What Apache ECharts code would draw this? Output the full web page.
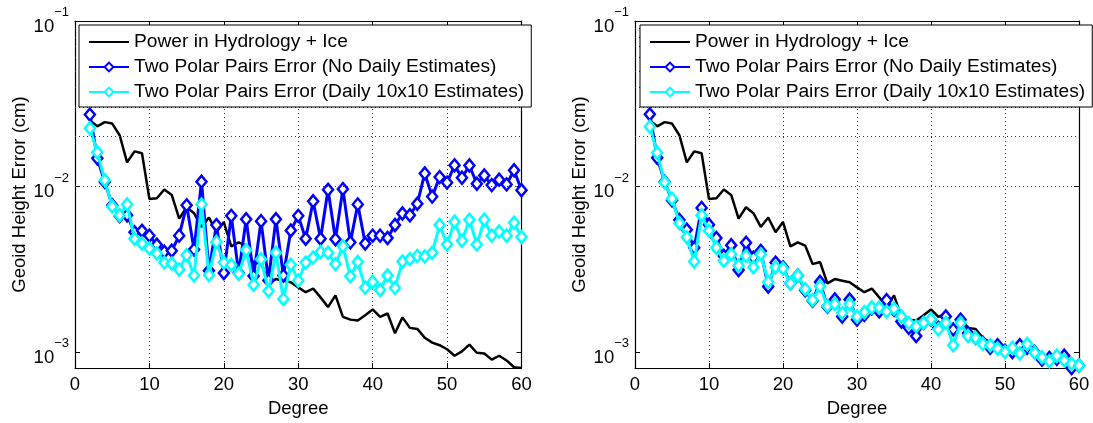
<!DOCTYPE html>
<html>
<head>
<meta charset="utf-8">
<script src="https://cdn.jsdelivr.net/npm/echarts@6/dist/echarts.min.js"></script>
<style>
html,body{margin:0;padding:0;background:#fff;}
#chart{width:1093px;height:423px;}
</style>
</head>
<body>
<div id="chart"></div>
<script>
// ---- data ----
const degrees = [2,3,4,5,6,7,8,9,10,11,12,13,14,15,16,17,18,19,20,21,22,23,24,25,26,27,28,29,30,31,32,33,34,35,36,37,38,39,40,41,42,43,44,45,46,47,48,49,50,51,52,53,54,55,56,57,58,59,60];
const seriesNames = ['Power in Hydrology + Ice','Two Polar Pairs Error (No Daily Estimates)','Two Polar Pairs Error (Daily 10x10 Estimates)'];
const powerHydroIce = [0.0251,0.0231,0.0245,0.0240,0.0204,0.0140,0.0163,0.0159,0.0084,0.0085,0.0096,0.0089,0.0064,0.0075,0.0069,0.0057,0.0065,0.0053,0.0061,0.00435,0.0046,0.0044,0.0034,0.0035,0.0026,0.00276,0.0027,0.00264,0.00246,0.0023,0.00242,0.00214,0.00187,0.0022,0.00163,0.00157,0.00155,0.00167,0.00181,0.00163,0.00171,0.0013,0.00162,0.0014,0.00138,0.00122,0.00114,0.0011,0.00104,0.00095,0.00101,0.00111,0.00099,0.00098,0.0009,0.00095,0.00089,0.00081,0.0008];
const noDailyLeft = [0.0272,0.0148,0.01066,0.0077,0.00664,0.0067,0.0053,0.0054,0.00505,0.00445,0.00404,0.00409,0.00505,0.0077,0.00416,0.0107,0.0031,0.00585,0.003,0.00665,0.003,0.00635,0.00288,0.00618,0.00271,0.00635,0.0029,0.00542,0.00665,0.00484,0.00815,0.00484,0.00955,0.0048,0.00965,0.0046,0.0078,0.00453,0.00505,0.00505,0.00489,0.00586,0.00687,0.00671,0.00787,0.0120,0.00869,0.0114,0.01056,0.01343,0.0113,0.0134,0.0104,0.01166,0.0102,0.0110,0.0103,0.01254,0.0095];
const daily10Left = [0.0225,0.0161,0.0109,0.00758,0.0067,0.0078,0.00484,0.00453,0.00423,0.00394,0.00347,0.00343,0.00315,0.00385,0.0029,0.0078,0.00292,0.00463,0.00347,0.00336,0.00297,0.00413,0.00255,0.00364,0.00234,0.00398,0.00209,0.00337,0.0027,0.00347,0.00372,0.00402,0.00398,0.0034,0.00436,0.00287,0.0035,0.00245,0.00265,0.00237,0.0029,0.00244,0.00352,0.00364,0.00381,0.00378,0.00398,0.00586,0.00447,0.00613,0.0047,0.0063,0.00447,0.0063,0.00505,0.00535,0.00505,0.00604,0.00495];
const noDailyRight = [0.0273,0.0149,0.0107,0.00826,0.00628,0.00548,0.00427,0.00743,0.00588,0.00489,0.00381,0.00442,0.00313,0.00457,0.00372,0.00408,0.00249,0.00347,0.00325,0.0026,0.0029,0.00236,0.00204,0.00265,0.00188,0.00208,0.00164,0.00208,0.00157,0.00168,0.00184,0.00176,0.00206,0.0018,0.00153,0.0014,0.00125,0.0015,0.00157,0.0014,0.00164,0.00137,0.00157,0.0013,0.00122,0.00114,0.00106,0.0011,0.00102,0.001,0.0011,0.00106,0.001,0.0009,0.00092,0.00091,0.00095,0.0008,0.00083];
const daily10Right = [0.0230,0.0160,0.0106,0.00845,0.0060,0.00494,0.00352,0.0067,0.0054,0.00427,0.00356,0.0039,0.00333,0.00381,0.00325,0.0039,0.00265,0.00325,0.0032,0.0026,0.0029,0.0024,0.00206,0.0025,0.0019,0.00195,0.00172,0.00195,0.00164,0.00174,0.00186,0.00186,0.00176,0.00183,0.00164,0.0015,0.00143,0.0015,0.00158,0.00137,0.0015,0.0011,0.0015,0.00125,0.00122,0.00112,0.0011,0.00105,0.001,0.00106,0.00098,0.00112,0.00099,0.00093,0.00088,0.00095,0.00089,0.00085,0.00083];
const xTicks = [0,10,20,30,40,50,60];
const yGridValues = [0.0009,0.001,0.002,0.003,0.004,0.005,0.006,0.007,0.008,0.009,0.01,0.02,0.03,0.04,0.05,0.06,0.07,0.08,0.09];
const yMin = 0.0008, yMax = 0.1;
const xLabel = 'Degree';
const yLabel = 'Geoid Height Error (cm)';

// ---- styling ----
const FONT = 'Liberation Sans, Arial, Helvetica, sans-serif';
const FS = 18.5;
const colors = ['#000000','#0000ff','#00ffff'];
const gridDef = [
  {left: 75, top: 21, width: 446.5, height: 354},
  {left: 635, top: 21, width: 444, height: 354}
];
const legendLeft = [79, 640];

function pairs(ys){ return degrees.map((d,i)=>[d, ys[i]]); }
function expLabel(v){
  const l = Math.log10(v), e = Math.round(l);
  if (Math.abs(l - e) > 1e-6) return '';
  return '{b|10}{s|' + (e < 0 ? '\u2212' : '') + Math.abs(e) + '}';
}
const dotted = {type: [1,3], color: '#333', width: 1};

const xAxes = [], yAxes = [], series = [], legends = [];
gridDef.forEach((g, gi) => {
  xAxes.push({
    type: 'value', gridIndex: gi, min: xTicks[0], max: xTicks[xTicks.length-1], interval: 10,
    name: xLabel, nameLocation: 'middle', nameGap: 24,
    nameTextStyle: {fontFamily: FONT, fontSize: FS, color: '#000', verticalAlign: 'top'},
    axisLine: {show: true, onZero: false, lineStyle: {color: '#000', width: 1.2}},
    axisTick: {show: true, inside: true, length: 5, lineStyle: {color: '#000'}},
    axisLabel: {fontFamily: FONT, fontSize: FS, color: '#000', margin: 7},
    splitLine: {show: true, lineStyle: dotted}
  });
  xAxes.push({
    type: 'value', gridIndex: gi, position: 'top', min: 0, max: 60, interval: 10,
    axisLine: {show: true, onZero: false, lineStyle: {color: '#000', width: 1.2}},
    axisTick: {show: true, inside: true, length: 5, lineStyle: {color: '#000'}},
    axisLabel: {show: false}, splitLine: {show: false}
  });
  yAxes.push({
    type: 'log', logBase: 10, gridIndex: gi, min: yMin, max: yMax,
    name: yLabel, nameLocation: 'middle', nameGap: 46,
    nameTextStyle: {fontFamily: FONT, fontSize: FS, color: '#000'},
    axisLine: {show: true, onZero: false, lineStyle: {color: '#000', width: 1.2}},
    axisTick: {show: true, inside: true, length: 5, lineStyle: {color: '#000'}},
    axisLabel: {
      margin: 6, color: '#000', fontFamily: FONT, formatter: expLabel,
      rich: {
        b: {fontFamily: FONT, fontSize: FS, color: '#000', verticalAlign: 'bottom', lineHeight: 19},
        s: {fontFamily: FONT, fontSize: 13, color: '#000', verticalAlign: 'top', lineHeight: 30}
      }
    },
    splitLine: {show: false}
  });
  yAxes.push({
    type: 'log', logBase: 10, gridIndex: gi, position: 'right', min: yMin, max: yMax,
    axisLine: {show: true, onZero: false, lineStyle: {color: '#000', width: 1.2}},
    axisTick: {show: true, inside: true, length: 5, lineStyle: {color: '#000'}},
    axisLabel: {show: false}, splitLine: {show: false}
  });
  const xi = gi * 2, yi = gi * 2;
  const blue = gi === 0 ? noDailyLeft : noDailyRight;
  const cyan = gi === 0 ? daily10Left : daily10Right;
  series.push({
    name: seriesNames[0], type: 'line', xAxisIndex: xi, yAxisIndex: yi,
    data: pairs(powerHydroIce), symbol: 'none',
    lineStyle: {color: colors[0], width: 2.5}, itemStyle: {color: colors[0]},
    markLine: {
      silent: true, symbol: ['none','none'], label: {show: false},
      lineStyle: dotted, emphasis: {disabled: true},
      data: yGridValues.map(v => ({yAxis: v}))
    },
    z: 2
  });
  [[blue, colors[1]], [cyan, colors[2]]].forEach(([ys, c], k) => {
    series.push({
      name: seriesNames[k+1], type: 'line', xAxisIndex: xi, yAxisIndex: yi,
      data: pairs(ys), symbol: 'diamond', symbolSize: [10, 12], showAllSymbol: true,
      lineStyle: {color: c, width: 3},
      itemStyle: {color: '#ffffff', borderColor: c, borderWidth: 2.5},
      z: 3 + k
    });
  });
  legends.push({
    show: true, orient: 'vertical', left: legendLeft[gi], top: 25,
    data: [
      {name: seriesNames[0], itemStyle: {opacity: 0}},
      {name: seriesNames[1]},
      {name: seriesNames[2]}
    ],
    backgroundColor: '#fff', borderColor: '#000', borderWidth: 1,
    borderRadius: 0, padding: [7, 7, 5, 9], itemGap: 5, itemWidth: 40, itemHeight: 11,
    textStyle: {fontFamily: FONT, fontSize: 19.2, color: '#000', lineHeight: 20},
    selectedMode: false, z: 10
  });
});

const chart = echarts.init(document.getElementById('chart'), null, {renderer: 'canvas'});
chart.setOption({
  animation: false,
  backgroundColor: '#fff',
  grid: gridDef.map(g => Object.assign({containLabel: false}, g)),
  legend: legends,
  xAxis: xAxes,
  yAxis: yAxes,
  series: series
});
</script>
</body>
</html>
